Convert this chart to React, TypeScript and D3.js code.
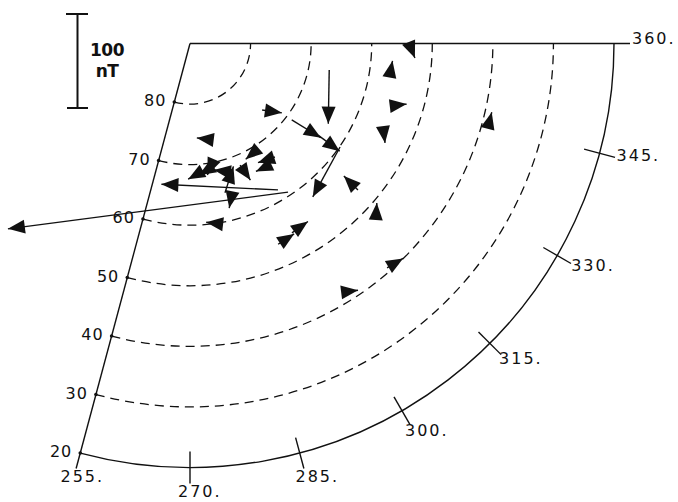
import React from 'react';
import * as d3 from 'd3';

// latitude rings and azimuth ticks
const LAT_LABELS = [80, 70, 60, 50, 40, 30, 20];
const DASHED_LATS = [80, 70, 60, 50, 40, 30];
const AZ_TICKS = [255, 270, 285, 300, 315, 330, 345, 360];

// station positions (latitude, azimuth) and horizontal field vector (nT)
const stationLat = [60.6, 61.8, 64.7, 64.2, 69.0, 69.4, 70.1, 67.9, 59.9, 53.2, 47.9, 54.5, 53.8, 40.7, 41.8,
  73.7, 73.8, 69.0, 64.0, 66.6, 53.8, 56.6, 55.3, 55.2, 38.9, 69.3, 66.6, 66.0, 68.3, 59.7];
const stationAz = [303.4, 301.0, 283.2, 285.6, 276.8, 281.1, 281.0, 286.5, 325.4, 318.9, 316.8, 298.3, 293.7, 311.3, 301.6,
  282.8, 317.3, 323.1, 324.4, 349.2, 359.9, 350.8, 342.7, 336.4, 344.3, 302.8, 306.8, 303.4, 292.4, 280.1];
const bEast = [-298, -124, 9, -3, -18, -16, -6, -15, -29, -15, 1, 17, 17, 17, 16,
  -16, 21, 31, 23, -1, 6, 3, 17, 2, 4, -13, -18, -15, 11, -17];
const bNorth = [-39, 6, 28, -15, -10, -10, -14, 2, -53, 15, 16, 12, 11, 10, 2,
  2, -3, -19, -17, -57, -15, 16, 2, -16, 16, -11, -6, -7, -16, 2];

const SCALE_NT = 100;

export default function App() {
  const width = 678;
  const height = 502;
  const cx = 190;
  const cy = 43.5;
  const R = 424;
  const pxPerNT = 0.94;

  const rScale = d3.scaleLinear().domain([90, 20]).range([0, R]);
  // screen angle in degrees, clockwise from east
  const aScale = d3.scaleLinear().domain([360, 255]).range([0, 105]);
  const rad = (deg: number) => (deg * Math.PI) / 180;
  const proj = (lat: number, az: number, dr = 0) => {
    const r = rScale(lat) + dr;
    const t = rad(aScale(az));
    return [cx + r * Math.cos(t), cy + r * Math.sin(t)];
  };

  const arcPath = (r: number) => {
    const p = d3.path();
    const t0 = rad(aScale(255));
    p.moveTo(cx + r * Math.cos(t0), cy + r * Math.sin(t0));
    p.arc(cx, cy, r, t0, 0, true);
    return p.toString();
  };

  const font = '"DejaVu Sans", sans-serif';
  const ink = '#111';

  const arrows = stationLat.map((lat, i) => {
    const [x0, y0] = proj(lat, stationAz[i]);
    const x1 = x0 + bEast[i] * pxPerNT;
    const y1 = y0 - bNorth[i] * pxPerNT;
    const len = Math.hypot(x1 - x0, y1 - y0);
    const ux = (x1 - x0) / len;
    const uy = (y1 - y0) / len;
    const hl = 17;
    const hw = 7;
    const bx = x1 - ux * hl;
    const by = y1 - uy * hl;
    const head = `M${x1},${y1}L${bx - uy * hw},${by + ux * hw}L${bx + uy * hw},${by - ux * hw}Z`;
    return { x0, y0, x1, y1, head };
  });

  return (
    <svg width={width} height={height} style={{ position: 'absolute', left: 0, top: 0, background: '#fff' }}>
      {/* scale bar */}
      <g stroke={ink} strokeWidth={2}>
        <line x1={77.5} x2={77.5} y1={14} y2={14 + SCALE_NT * pxPerNT} />
        <line x1={66} x2={88} y1={14} y2={14} />
        <line x1={67} x2={88} y1={14 + SCALE_NT * pxPerNT} y2={14 + SCALE_NT * pxPerNT} />
      </g>
      <text x={107} y={56} textAnchor="middle" fontFamily={font} fontWeight="bold" fontSize={17} letterSpacing={-0.5} fill={ink}>
        {SCALE_NT}
      </text>
      <text x={107} y={77} textAnchor="middle" fontFamily={font} fontWeight="bold" fontSize={17} letterSpacing={-0.5} fill={ink}>
        nT
      </text>

      {/* dashed latitude circles */}
      {DASHED_LATS.map(lat => (
        <path key={lat} d={arcPath(rScale(lat))} fill="none" stroke={ink} strokeWidth={1.3} strokeDasharray="9 6" />
      ))}

      {/* frame */}
      <path d={arcPath(R)} fill="none" stroke={ink} strokeWidth={1.4} />
      {AZ_TICKS.map(az => {
        const inner = proj(20, az, az === 360 || az === 255 ? -R : -16);
        const outer = proj(20, az, 16);
        const t = rad(aScale(az));
        const lx = outer[0] + 2 - 14 * (1 - Math.cos(t));
        const ly = outer[1] + 0.5 + 13 * Math.sin(t);
        return (
          <g key={az}>
            <line x1={inner[0]} y1={inner[1]} x2={outer[0]} y2={outer[1]} stroke={ink} strokeWidth={1.4} />
            <text x={lx} y={ly} fontFamily={font} fontSize={16} letterSpacing={2} fill={ink}>
              {az}.
            </text>
          </g>
        );
      })}
      {LAT_LABELS.map(lat => {
        const [x, y] = proj(lat, 255);
        return (
          <g key={lat}>
            <circle cx={x} cy={y} r={1.8} fill={ink} />
            <text x={x - 8} y={y + 4} textAnchor="end" fontFamily={font} fontSize={16} letterSpacing={1} fill={ink}>
              {lat}
            </text>
          </g>
        );
      })}

      {/* field vectors */}
      {arrows.map((a, i) => (
        <g key={i}>
          <line x1={a.x0} y1={a.y0} x2={a.x1} y2={a.y1} stroke={ink} strokeWidth={1.4} />
          <path d={a.head} fill={ink} />
        </g>
      ))}
    </svg>
  );
}
